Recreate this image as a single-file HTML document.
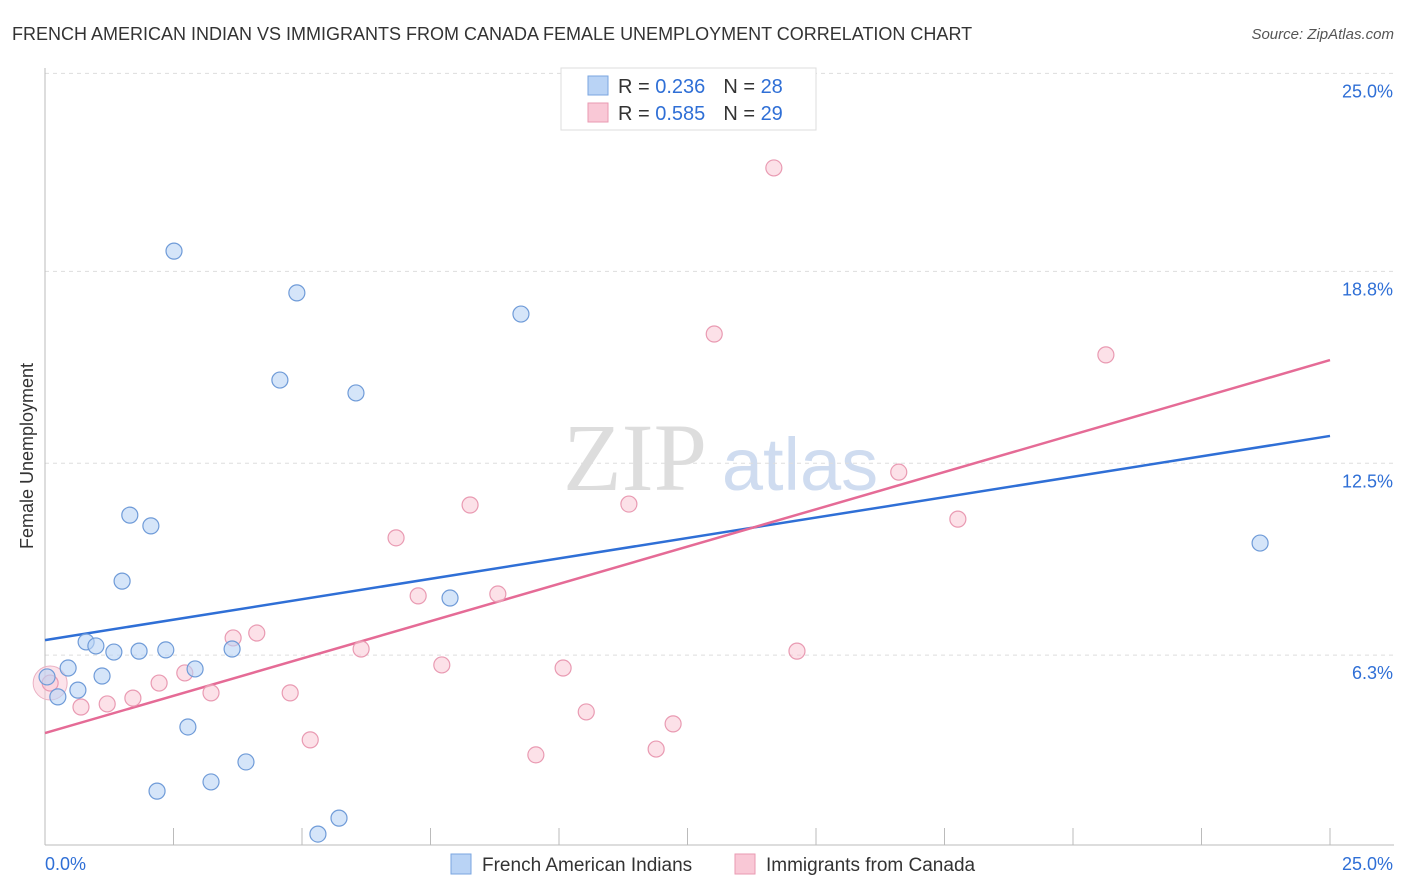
<!DOCTYPE html>
<html><head><meta charset="utf-8"><style>
body{margin:0;background:#fff;font-family:"Liberation Sans",sans-serif;}
svg{display:block}
</style></head><body>
<svg id="c" width="1406" height="892">
<text x="12" y="40" font-size="18" fill="#333">FRENCH AMERICAN INDIAN VS IMMIGRANTS FROM CANADA FEMALE UNEMPLOYMENT CORRELATION CHART</text>
<text x="1394" y="39" font-size="15" fill="#555" font-style="italic" text-anchor="end">Source: ZipAtlas.com</text>
<text x="0" y="0" transform="translate(33,456) rotate(-90)" font-size="18" fill="#333" text-anchor="middle">Female Unemployment</text>
<g>
<text x="635" y="490" font-size="96" fill="#ddd" font-family="Liberation Serif,serif" text-anchor="middle">ZIP</text>
<text x="800" y="490" font-size="74" fill="#cfdcf0" text-anchor="middle">atlas</text>
</g>
<g id="grid"></g><g id="axes"></g><g id="lines"></g><g id="pts"></g>
<g>
<rect x="561" y="68" width="255" height="62" fill="#fff" stroke="#ddd"/>
<rect x="588" y="76" width="20" height="19" fill="#b9d3f5" stroke="#7aa6e0"/>
<rect x="588" y="103" width="20" height="19" fill="#f9c8d6" stroke="#e99ab2"/>
<text x="618" y="93" font-size="20" fill="#333">R = <tspan fill="#2f6fd6">0.236</tspan><tspan dx="18">N = </tspan><tspan fill="#2f6fd6">28</tspan></text>
<text x="618" y="120" font-size="20" fill="#333">R = <tspan fill="#2f6fd6">0.585</tspan><tspan dx="18">N = </tspan><tspan fill="#2f6fd6">29</tspan></text>
</g>
<g>
<rect x="451" y="854" width="20" height="20" fill="#b9d3f5" stroke="#7aa6e0"/>
<text x="482" y="871" font-size="19" fill="#333">French American Indians</text>
<rect x="735" y="854" width="20" height="20" fill="#f9c8d6" stroke="#e99ab2"/>
<text x="766" y="871" font-size="19" fill="#333">Immigrants from Canada</text>
</g>
</svg>
<script>
const blueX=[0.04,0.25,0.45,0.64,0.80,0.99,1.11,1.34,1.50,1.65,1.83,2.06,2.18,2.35,2.51,2.78,2.92,3.23,3.64,3.91,4.57,4.90,5.31,5.72,6.05,7.88,9.26,23.64];
const blueY=[5.54,4.89,5.83,5.11,6.68,6.55,5.57,6.35,8.66,10.81,6.38,10.46,1.82,6.42,19.41,3.91,5.80,2.12,6.45,2.77,15.21,18.05,0.42,0.94,14.79,8.11,17.36,9.90];
const pinkX=[0.10,0.70,1.21,1.71,2.22,2.72,3.23,3.66,4.12,4.77,5.16,6.15,6.83,7.26,7.72,8.27,8.81,9.55,10.08,10.53,11.36,11.89,12.22,13.02,14.18,14.63,16.61,17.76,20.64];
const pinkY=[5.34,4.56,4.66,4.85,5.34,5.67,5.02,6.81,6.97,5.02,3.49,6.45,10.07,8.18,5.93,11.14,8.24,3.00,5.83,4.40,11.17,3.19,4.01,16.71,22.12,6.38,12.21,10.68,16.03];
const blueTrend=[6.74,0.266];
const pinkTrend=[3.71,0.486];
const yTicks=[25.0,18.8,12.5,6.3];
const yTickLabels=["25.0%","18.8%","12.5%","6.3%"];
const xTicks=[0,2.5,5,7.5,10,12.5,15,17.5,20,22.5,25];
const xs=v=>45+v*51.4, ys=v=>847-v*30.7;
const NS="http://www.w3.org/2000/svg";
function mk(p,t,a){const e=document.createElementNS(NS,t);for(const k in a)e.setAttribute(k,a[k]);document.getElementById(p).appendChild(e);return e;}
yTicks.forEach((v,i)=>{const y=ys(v===25?25.2:v===18.8?18.75:v===6.3?6.25:v);
let l=mk('grid','line',{x1:45,x2:1394,y1:y,y2:y,stroke:'#ddd','stroke-dasharray':'4,4'});

let t=mk('grid','text',{x:1393,y:y+24,'font-size':18,fill:'#2f6fd6','text-anchor':'end'});t.textContent=yTickLabels[i];
});
let ax=mk('axes','line',{x1:45,x2:45,y1:68,y2:845,stroke:'#bbb'});
let bx=mk('axes','line',{x1:45,x2:1394,y1:845,y2:845,stroke:'#bbb'});
xTicks.forEach(v=>{let t=mk('axes','line',{x1:xs(v),x2:xs(v),y1:828,y2:845,stroke:'#bbb'});});
[["0.0%",45,'start'],["25.0%",1393,'end']].forEach(a=>{let t=mk('axes','text',{x:a[1],y:870,'font-size':18,fill:'#2f6fd6','text-anchor':a[2]});t.textContent=a[0];});
function trend(tr,c,n){let l=mk('lines','line',{x1:xs(0),y1:ys(tr[0]),x2:xs(25),y2:ys(tr[0]+tr[1]*25),stroke:c,'stroke-width':2.5});}
trend(blueTrend,'#2f6fd6','blue-trend-line');trend(pinkTrend,'#e56b96','pink-trend-line');
mk('pts','circle',{cx:xs(0.1),cy:ys(5.34),r:17,fill:'rgba(249,200,214,0.5)',stroke:'#eab0c2'});
pinkX.forEach((x,i)=>{let c=mk('pts','circle',{cx:xs(x),cy:ys(pinkY[i]),r:8,fill:'rgba(249,200,214,0.55)',stroke:'#e99ab2','stroke-width':1.2});
});
blueX.forEach((x,i)=>{let c=mk('pts','circle',{cx:xs(x),cy:ys(blueY[i]),r:8,fill:'rgba(185,211,245,0.6)',stroke:'#6f9bd8','stroke-width':1.2});
});
</script>
</body></html>
